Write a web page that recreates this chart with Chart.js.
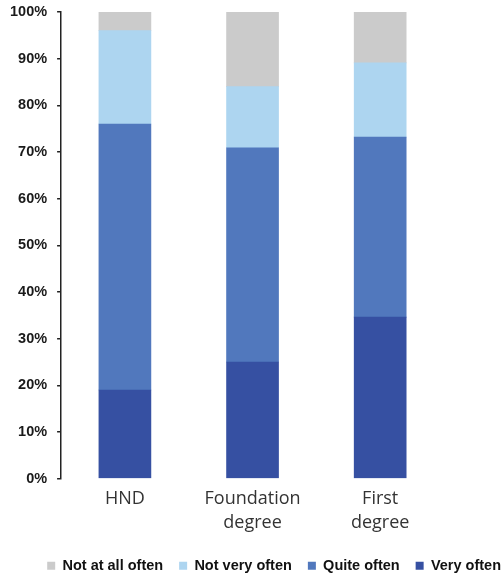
<!DOCTYPE html>
<html>
<head>
<meta charset="utf-8">
<script src="https://cdn.jsdelivr.net/npm/chart.js@4.4.1/dist/chart.umd.min.js"></script>
<style>
  html, body { margin: 0; padding: 0; background: #fff; overflow: hidden; }
  #frame { width: 501px; height: 575px; overflow: hidden; }
  #wrap { width: 517px; height: 575px; }
</style>
</head>
<body>
<div id="frame"><div id="wrap"><canvas id="myChart"></canvas></div></div>
<script>
// Catégories et séries (en %), empilées de bas en haut
const categories = ["HND", ["Foundation", "degree"], ["First", "degree"]];
const veryOften = [19, 25, 34.6];
const quiteOften = [57, 45.9, 38.6];
const notVeryOften = [20, 13.1, 15.9];
const notAtAllOften = [4, 16, 10.9];
const yTicks = [0, 10, 20, 30, 40, 50, 60, 70, 80, 90, 100];

const data = {
    labels: categories,
    datasets: [
        { label: "Very often", data: veryOften, backgroundColor: "#3650a2" },
        { label: "Quite often", data: quiteOften, backgroundColor: "#5178bd" },
        { label: "Not very often", data: notVeryOften, backgroundColor: "#add5f0" },
        { label: "Not at all often", data: notAtAllOften, backgroundColor: "#cbcbcb" },
    ],
};

// Légende collée au bas du canvas
const legendNudge = {
    id: "legendNudge",
    beforeLayout(chart) {
        const legend = chart.legend;
        if (!legend || legend._nudged) return;
        const fit = legend.fit;
        legend.fit = function () {
            fit.call(this);
            this.height -= 8;
        };
        legend._nudged = true;
    },
};

const config = {
    type: "bar",
    data: data,
    plugins: [legendNudge],
    options: {
        responsive: true,
        maintainAspectRatio: false,
        animation: false,
        layout: { padding: { top: 12, right: 0, left: 0, bottom: 0 } },
        datasets: {
            bar: {
                barThickness: 52,
                borderWidth: 0,
            },
        },
        scales: {
            x: {
                stacked: true,
                grid: { display: false, drawTicks: false },
                border: { display: false },
                ticks: {
                    padding: 8,
                    color: "#333",
                    font: { family: "Open Sans, Liberation Sans, sans-serif", size: 18, lineHeight: 1.33 },
                    maxRotation: 0,
                },
            },
            y: {
                stacked: true,
                min: 0,
                max: 100,
                afterBuildTicks: (axis) => { axis.ticks = yTicks.map(v => ({ value: v })); },
                afterFit: (scale) => { scale.paddingTop = 0; },
                grid: { drawOnChartArea: false, drawTicks: true, tickLength: 4, color: "#222", lineWidth: 1.5 },
                border: { display: true, color: "#222", width: 1.5 },
                ticks: {
                    padding: 10,
                    color: "#1a1a1a",
                    font: { family: "Liberation Sans, Arial, sans-serif", size: 14.5, weight: "bold" },
                    callback: (v) => v + "%",
                },
            },
            // axe vide à droite : réserve la marge sans toucher à la légende
            yRight: {
                type: "linear",
                position: "right",
                display: true,
                grid: { display: false, drawTicks: false },
                border: { display: false },
                ticks: { display: false },
                afterFit: (scale) => { scale.width = 73; scale.paddingTop = 0; },
            },
        },
        plugins: {
            legend: {
                position: "bottom",
                align: "end",
                reverse: true,
                labels: {
                    boxWidth: 8,
                    boxHeight: 8,
                    padding: 16,
                    color: "#111",
                    font: { family: "Liberation Sans, Arial, sans-serif", size: 14.5, weight: "bold" },
                },
            },
            tooltip: { enabled: false },
        },
    },
};

const ctx = document.getElementById('myChart').getContext('2d');
const myChart = new Chart(ctx, config);
</script>
</body>
</html>
